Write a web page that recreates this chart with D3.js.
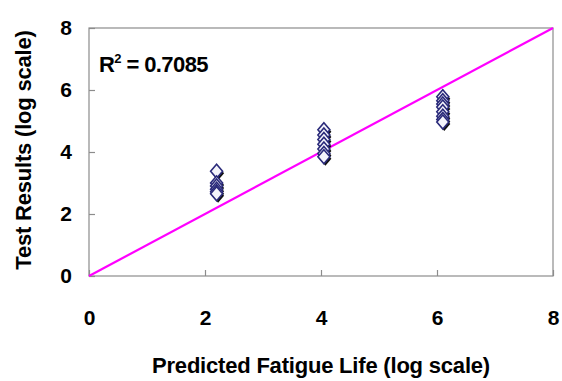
<!DOCTYPE html>
<html>
<head>
<meta charset="utf-8">
<script src="https://cdn.jsdelivr.net/npm/d3@7"></script>
<style>
  body { margin: 0; background: #fff; }
  text { font-family: "Liberation Sans", Arial, sans-serif; font-weight: bold; fill: #000; }
</style>
</head>
<body>
<svg id="chart" width="562" height="381"></svg>
<script>
// predicted life (x) per group, and the test results at each
var predicted = [2.2, 4.05, 6.1];
var results = [
    [3.38, 3.0, 2.9, 2.8, 2.72, 2.65],
    [4.72, 4.55, 4.4, 4.25, 4.1, 3.95, 3.85],
    [5.78, 5.65, 5.55, 5.45, 5.3, 5.15, 5.05, 4.97]
];
var xTicks = [0, 2, 4, 6, 8];
var yTicks = [0, 2, 4, 6, 8];
var fitLine = [[0, 0], [8, 8]];
var r2Label = '0.7085';

var points = [];
predicted.forEach(function (px, i) {
    results[i].forEach(function (v) { points.push({ x: px, y: v }); });
});

var svg = d3.select('#chart');
var margin = { left: 89, right: 9, top: 28, bottom: 105 };
var W = 562, H = 381;

var x = d3.scaleLinear().domain([0, 8]).range([margin.left, W - margin.right]);
var y = d3.scaleLinear().domain([0, 8]).range([H - margin.bottom, margin.top]);

// frame
svg.append('rect')
    .attr('x', x(0)).attr('y', y(8))
    .attr('width', x(8) - x(0)).attr('height', y(0) - y(8))
    .attr('fill', 'none').attr('stroke', '#8c8c8c').attr('stroke-width', 1.2);

// inner ticks
var xAxis = svg.append('g').attr('transform', 'translate(0,' + y(0) + ')')
    .call(d3.axisBottom(x).tickValues(xTicks).tickSize(-6).tickPadding(34));
var yAxis = svg.append('g').attr('transform', 'translate(' + x(0) + ',0)')
    .call(d3.axisLeft(y).tickValues(yTicks).tickSize(-6).tickPadding(17));
[xAxis, yAxis].forEach(function (g) {
    g.select('.domain').remove();
    g.selectAll('line').attr('stroke', '#8c8c8c').attr('stroke-width', 1.2);
    g.selectAll('text').attr('font-size', 21).attr('font-family', '"Liberation Sans", Arial, sans-serif')
        .attr('font-weight', 'bold').attr('fill', '#000');
});

// fit line
svg.append('path')
    .datum(fitLine)
    .attr('d', d3.line().x(function (d) { return x(d[0]); }).y(function (d) { return y(d[1]); }))
    .attr('stroke', '#ff00ff').attr('stroke-width', 2.2).attr('fill', 'none');

// diamond markers with a dark shadow
var diamond = 'M0,-7L6,0L0,7L-6,0Z';
var marks = svg.append('g');
marks.selectAll('path.shadow').data(points).enter().append('path')
    .attr('class', 'shadow')
    .attr('d', diamond)
    .attr('transform', function (d) { return 'translate(' + (x(d.x) + 1.5) + ',' + (y(d.y) + 2) + ')'; })
    .attr('fill', '#111');
marks.selectAll('path.pt').data(points).enter().append('path')
    .attr('class', 'pt')
    .attr('d', diamond)
    .attr('transform', function (d) { return 'translate(' + x(d.x) + ',' + y(d.y) + ')'; })
    .attr('fill', '#f4f4fb').attr('stroke', '#2a2a7a').attr('stroke-width', 1.6);

// R squared label
var r2 = svg.append('text').attr('x', 99).attr('y', 72).attr('font-size', 22)
    .attr('letter-spacing', -0.6);
r2.append('tspan').text('R');
r2.append('tspan').attr('font-size', 13).attr('dy', -9).text('2');
r2.append('tspan').attr('dy', 9).text(' = ' + r2Label);

// axis titles
svg.append('text')
    .attr('x', (x(0) + x(8)) / 2).attr('y', 373)
    .attr('text-anchor', 'middle').attr('font-size', 22)
    .attr('letter-spacing', -0.2)
    .text('Predicted Fatigue Life (log scale)');
svg.append('text')
    .attr('transform', 'translate(31,' + ((y(0) + y(8)) / 2 - 2) + ') rotate(-90)')
    .attr('text-anchor', 'middle').attr('font-size', 22)
    .attr('letter-spacing', -0.2)
    .text('Test Results (log scale)');
</script>
</body>
</html>
